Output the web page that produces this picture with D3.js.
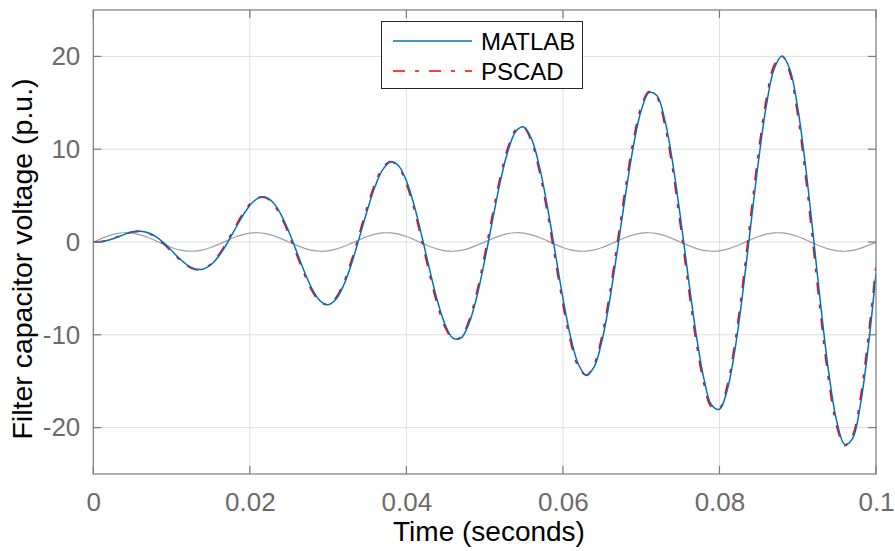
<!DOCTYPE html>
<html><head><meta charset="utf-8">
<script src="https://cdn.jsdelivr.net/npm/d3@7"></script>
<style>body{margin:0;background:#fff} text{font-family:"Liberation Sans",Arial,Helvetica,sans-serif}</style>
</head><body><svg id="c" width="895" height="551"></svg>
<script>
// sample grid: 1 ms steps from 0 to 0.1 s
const tStep = 0.001;
const matlab = [0,0.03,0.21,0.50,0.82,1.08,1.16,1.00,0.57,-0.10,
-0.92,-1.77,-2.48,-2.91,-2.93,-2.48,-1.57,-0.27,1.22,2.71,
3.94,4.70,4.82,4.22,2.93,1.08,-1.08,-3.26,-5.12,-6.36,
-6.75,-6.17,-4.64,-2.32,0.50,3.40,5.98,7.83,8.63,8.22,
6.59,3.93,0.54,-3.09,-6.44,-9.01,-10.39,-10.33,-8.77,-5.89,
-2.00,2.31,6.50,9.85,11.94,12.40,11.08,8.12,3.88,-1.07,
-6.04,-10.29,-13.22,-14.35,-13.44,-10.59,-6.15,-0.63,5.11,10.31,
14.16,16.09,15.79,13.21,8.67,2.76,-3.70,-9.81,-14.67,-17.56,
-18.02,-15.93,-11.49,-5.30,1.81,8.81,14.75,18.69,20.05,18.60,
14.45,8.16,0.55,-7.30,-14.30,-19.37,-21.81,-21.19,-17.57,-11.37,
-3.34];
const pscad = [0,0.04,0.24,0.54,0.86,1.10,1.15,0.96,0.49,-0.20,
-1.04,-1.88,-2.56,-2.94,-2.90,-2.39,-1.42,-0.07,1.43,2.90,
4.08,4.76,4.79,4.09,2.71,0.80,-1.38,-3.54,-5.34,-6.47,
-6.74,-6.02,-4.37,-1.96,0.90,3.78,6.29,8.02,8.66,8.08,
6.29,3.51,0.05,-3.58,-6.85,-9.29,-10.48,-10.22,-8.46,-5.42,
-1.43,2.91,7.03,10.23,12.12,12.34,10.78,7.62,3.24,-1.76,
-6.69,-10.79,-13.50,-14.37,-13.18,-10.08,-5.45,0.16,5.88,10.94,
14.57,16.20,15.59,12.71,7.94,1.89,-4.58,-10.58,-15.21,-17.80,
-17.91,-15.47,-10.75,-4.37,2.80,9.72,15.44,19.06,20.04,18.21,
13.72,7.19,-0.53,-8.34,-15.15,-19.90,-21.94,-20.89,-16.88,-10.37,
-2.6];
const reference = [0,0.368,0.685,0.905,0.998,0.951,0.771,0.482,0.125,-0.249,
-0.588,-0.844,-0.982,-0.982,-0.844,-0.588,-0.249,0.125,0.482,0.771,
0.951,0.998,0.905,0.685,0.368,0,-0.368,-0.685,-0.905,-0.998,
-0.951,-0.771,-0.482,-0.125,0.249,0.588,0.844,0.982,0.982,0.844,
0.588,0.249,-0.125,-0.482,-0.771,-0.951,-0.998,-0.905,-0.685,-0.368,
0,0.368,0.685,0.905,0.998,0.951,0.771,0.482,0.125,-0.249,
-0.588,-0.844,-0.982,-0.982,-0.844,-0.588,-0.249,0.125,0.482,0.771,
0.951,0.998,0.905,0.685,0.368,0,-0.368,-0.685,-0.905,-0.998,
-0.951,-0.771,-0.482,-0.125,0.249,0.588,0.844,0.982,0.982,0.844,
0.588,0.249,-0.125,-0.482,-0.771,-0.951,-0.998,-0.905,-0.685,-0.368,
0];
const xTicks = [0,0.02,0.04,0.06,0.08,0.1];
const xTickLabels = ["0","0.02","0.04","0.06","0.08","0.1"];
const yTicks = [-20,-10,0,10,20];
const yTickLabels = ["-20","-10","0","10","20"];
const seriesNames = ["MATLAB","PSCAD"];

const svg = d3.select("#c");
const W = 895, H = 551;
const m = {left:93.3, right:19, top:10, bottom:77};
const x = d3.scaleLinear().domain([0,0.1]).range([m.left, W-m.right]);
const y = d3.scaleLinear().domain([-25,25]).range([H-m.bottom, m.top]);
const axisCol = "#7a7a7a", tickTextCol = "#6b6b6b";

// clip
svg.append("defs").append("clipPath").attr("id","pa").append("rect")
  .attr("x",x(0)).attr("y",y(25)).attr("width",x(0.1)-x(0)).attr("height",y(-25)-y(25));

// grid
const g = svg.append("g");
g.selectAll(".gx").data(xTicks.slice(1,-1)).join("line")
  .attr("x1",d=>x(d)).attr("x2",d=>x(d)).attr("y1",y(-25)).attr("y2",y(25))
  .attr("stroke","#dedede").attr("stroke-width",1);
g.selectAll(".gy").data(yTicks).join("line")
  .attr("y1",d=>y(d)).attr("y2",d=>y(d)).attr("x1",x(0)).attr("x2",x(0.1))
  .attr("stroke","#dedede").attr("stroke-width",1);

const line = arr => d3.line().x((d,i)=>x(i*tStep)).y(d=>y(d)).curve(d3.curveCatmullRom.alpha(0.5))(arr);
const pg = svg.append("g").attr("clip-path","url(#pa)");
pg.append("path").attr("d",line(reference)).attr("fill","none").attr("stroke","#a0a0a0").attr("stroke-width",1.2);
pg.append("path").attr("d",line(pscad)).attr("fill","none").attr("stroke","#ff0000").attr("stroke-width",1.8).attr("stroke-dasharray","12,10,4,10");
pg.append("path").attr("d",line(matlab)).attr("fill","none").attr("stroke","#0072bd").attr("stroke-width",1.5);

// axes box
svg.append("rect").attr("x",x(0)).attr("y",y(25)).attr("width",x(0.1)-x(0)).attr("height",y(-25)-y(25))
  .attr("fill","none").attr("stroke",axisCol).attr("stroke-width",1.2);

const tl = 8;
// x ticks
const xb = d3.axisBottom(x).tickValues(xTicks).tickSize(0).tickFormat((d,i)=>xTickLabels[i]).tickPadding(19);
const xa = svg.append("g").attr("transform",`translate(0,${y(-25)})`).call(xb);
xa.select(".domain").remove();
xa.selectAll("text").attr("fill",tickTextCol).style("font-size","26px").attr("dy","0.71em");
svg.selectAll(".xt").data(xTicks).join("g").each(function(d){
  const s=d3.select(this);
  s.append("line").attr("x1",x(d)).attr("x2",x(d)).attr("y1",y(-25)).attr("y2",y(-25)-tl).attr("stroke",axisCol).attr("stroke-width",1.2);
  s.append("line").attr("x1",x(d)).attr("x2",x(d)).attr("y1",y(25)).attr("y2",y(25)+tl).attr("stroke",axisCol).attr("stroke-width",1.2);
});
// y ticks
const yl = d3.axisLeft(y).tickValues(yTicks).tickSize(0).tickPadding(13).tickFormat((d,i)=>yTickLabels[i]);
const ya = svg.append("g").attr("transform",`translate(${x(0)},0)`).call(yl);
ya.select(".domain").remove();
ya.selectAll("text").attr("fill",tickTextCol).style("font-size","26px");
svg.selectAll(".yt").data(yTicks).join("g").each(function(d){
  const s=d3.select(this);
  s.append("line").attr("x1",x(0)).attr("x2",x(0)+tl).attr("y1",y(d)).attr("y2",y(d)).attr("stroke",axisCol).attr("stroke-width",1.2);
  s.append("line").attr("x1",x(0.1)).attr("x2",x(0.1)-tl).attr("y1",y(d)).attr("y2",y(d)).attr("stroke",axisCol).attr("stroke-width",1.2);
});

// axis labels
svg.append("text").attr("x",489).attr("y",541).attr("text-anchor","middle")
  .style("font-size","28px").attr("fill","#000").text("Time (seconds)");
svg.append("text").attr("transform",`translate(32,259) rotate(-90)`).attr("text-anchor","middle")
  .style("font-size","28.5px").attr("fill","#000").text("Filter capacitor voltage (p.u.)");

// legend
const lg = svg.append("g");
lg.append("rect").attr("x",381.5).attr("y",21.5).attr("width",201).attr("height",67)
  .attr("fill","#fff").attr("stroke","#262626").attr("stroke-width",1);
const entries = [{name:seriesNames[0],col:"#0072bd",dash:null,w:1.5,yy:41},{name:seriesNames[1],col:"#ff0000",dash:"12,10,4,10",w:1.5,yy:71}];
entries.forEach(e=>{
  lg.append("line").attr("x1",393).attr("x2",472).attr("y1",e.yy).attr("y2",e.yy)
    .attr("stroke",e.col).attr("stroke-width",e.w).attr("stroke-dasharray",e.dash);
  lg.append("text").attr("x",481).attr("y",e.yy+8.5).style("font-size","24px").attr("fill","#000").text(e.name);
});
</script></body></html>
